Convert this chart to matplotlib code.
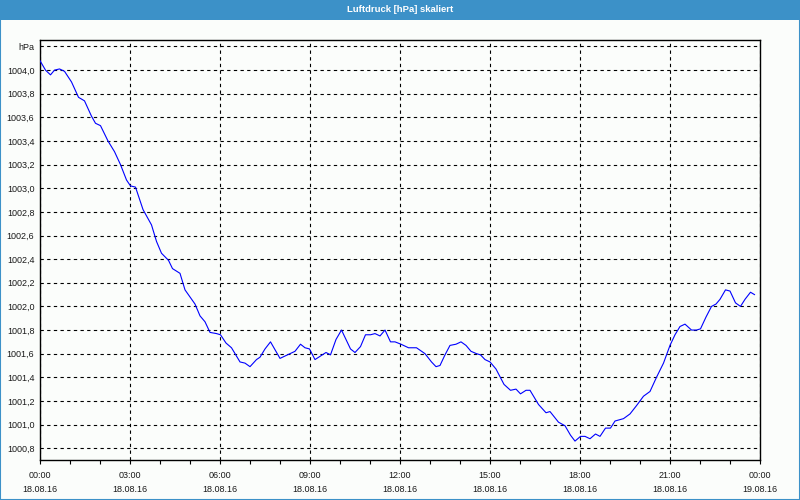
import numpy as np
import matplotlib
matplotlib.use('Agg')
import matplotlib.pyplot as plt
from matplotlib.patches import Rectangle
from matplotlib.ticker import FixedLocator, MultipleLocator, FuncFormatter

# Zeit in Minuten ab 18.08.16 00:00, Luftdruck in hPa
minutes = [0, 11, 21, 29, 39, 49, 63, 77, 89, 103, 111, 121, 136, 149, 161, 173,
           181, 191, 206, 223, 233, 243, 257, 265, 280, 290, 310, 320, 330, 340,
           353, 361, 372, 383, 400, 410, 420, 433, 440, 450, 461, 480, 495, 510,
           521, 530, 539, 550, 561, 572, 581, 592, 603, 612, 621, 630, 641, 651,
           661, 670, 680, 690, 701, 710, 722, 737, 753, 770, 783, 792, 800, 810,
           820, 832, 842, 852, 862, 873, 881, 890, 900, 912, 928, 941, 952, 961,
           972, 980, 997, 1012, 1020, 1037, 1050, 1061, 1070, 1081, 1090, 1100,
           1111, 1120, 1131, 1141, 1150, 1167, 1180, 1193, 1207, 1220, 1233, 1247,
           1253, 1260, 1270, 1280, 1290, 1303, 1313, 1321, 1332, 1343, 1352, 1360,
           1371, 1380, 1391, 1401, 1410, 1421, 1429]
pressure = [1004.08, 1004.00, 1003.96, 1004.00, 1004.01, 1003.99, 1003.90, 1003.77,
            1003.74, 1003.61, 1003.55, 1003.53, 1003.40, 1003.31, 1003.20, 1003.07,
            1003.02, 1003.01, 1002.82, 1002.69, 1002.55, 1002.45, 1002.39, 1002.32,
            1002.28, 1002.14, 1002.02, 1001.92, 1001.87, 1001.78, 1001.77, 1001.76,
            1001.69, 1001.65, 1001.53, 1001.52, 1001.49, 1001.55, 1001.57, 1001.64,
            1001.70, 1001.56, 1001.59, 1001.62, 1001.68, 1001.65, 1001.64, 1001.55,
            1001.58, 1001.61, 1001.59, 1001.72, 1001.80, 1001.72, 1001.64, 1001.61,
            1001.66, 1001.76, 1001.76, 1001.77, 1001.75, 1001.80, 1001.70, 1001.70,
            1001.68, 1001.65, 1001.65, 1001.60, 1001.53, 1001.49, 1001.50, 1001.59,
            1001.67, 1001.68, 1001.70, 1001.67, 1001.62, 1001.60, 1001.59, 1001.55,
            1001.53, 1001.47, 1001.34, 1001.29, 1001.30, 1001.26, 1001.29, 1001.29,
            1001.17, 1001.10, 1001.11, 1001.02, 1000.99, 1000.91, 1000.86, 1000.90,
            1000.90, 1000.88, 1000.92, 1000.90, 1000.97, 1000.97, 1001.03, 1001.05,
            1001.09, 1001.16, 1001.24, 1001.28, 1001.40, 1001.52, 1001.59, 1001.67,
            1001.76, 1001.83, 1001.85, 1001.80, 1001.80, 1001.81, 1001.91, 1002.00,
            1002.02, 1002.06, 1002.14, 1002.13, 1002.03, 1002.00, 1002.06, 1002.12,
            1002.10]

x_ticks = [0, 3, 6, 9, 12, 15, 18, 21, 24]
x_labels = ['00:00\n18.08.16', '03:00\n18.08.16', '06:00\n18.08.16',
            '09:00\n18.08.16', '12:00\n18.08.16', '15:00\n18.08.16',
            '18:00\n18.08.16', '21:00\n18.08.16', '00:00\n19.08.16']
y_ticks = [1000.8, 1001.0, 1001.2, 1001.4, 1001.6, 1001.8, 1002.0, 1002.2,
           1002.4, 1002.6, 1002.8, 1003.0, 1003.2, 1003.4, 1003.6, 1003.8,
           1004.0, 1004.2]
title = 'Luftdruck [hPa] skaliert'
unit = 'hPa'

plt.rcParams['font.family'] = ['Liberation Sans', 'DejaVu Sans']
bar_blue = '#3c91c8'
bg = '#fbfdfb'

fig = plt.figure(figsize=(8, 5), dpi=100, facecolor=bg)

# Titelleiste und Rahmen
fig.patches.append(Rectangle((0, 0.96), 1, 0.04, transform=fig.transFigure,
                             facecolor=bar_blue, edgecolor='none', zorder=0))
fig.patches.append(Rectangle((0.0006, 0.001), 0.9988, 0.998, transform=fig.transFigure,
                             facecolor='none', edgecolor=bar_blue, linewidth=1.5, zorder=1))
fig.text(0.5, 0.981, title, color='white', fontsize=6.8, fontweight='bold',
         ha='center', va='center')

ax = fig.add_axes([0.05, 0.08, 0.9, 0.84])
ax.set_facecolor(bg)

hours = np.array(minutes) / 60.0
ax.plot(hours, pressure, color='#0000ff', linewidth=0.8, zorder=3)

ax.set_xlim(0, 24)
ax.set_ylim(1000.70, 1004.255)

ax.xaxis.set_major_locator(FixedLocator(x_ticks))
ax.set_xticklabels(x_labels)
ax.xaxis.set_minor_locator(MultipleLocator(1))
ax.yaxis.set_major_locator(FixedLocator(y_ticks))


def y_fmt(v, pos):
    if abs(v - 1004.2) < 1e-6:
        return unit
    return ('%.1f' % v).replace('.', ',')


ax.yaxis.set_major_formatter(FuncFormatter(y_fmt))

ax.grid(True, which='major', color='black', linestyle=(0, (3, 3)), linewidth=0.8)
ax.tick_params(axis='x', which='major', direction='out', length=3, width=0.8,
               labelsize=6.5, pad=5, colors='black', labelcolor='#1a1a1a')
ax.tick_params(axis='x', which='minor', direction='out', length=3, width=0.8)
ax.tick_params(axis='y', which='major', length=0, labelsize=6.5, pad=4,
               labelcolor='#1a1a1a')
for lab in ax.get_xticklabels():
    lab.set_linespacing(1.75)

for s in ax.spines.values():
    s.set_linewidth(1.0)
    s.set_color('black')

fig.savefig('out.png', dpi=100, facecolor=bg)
